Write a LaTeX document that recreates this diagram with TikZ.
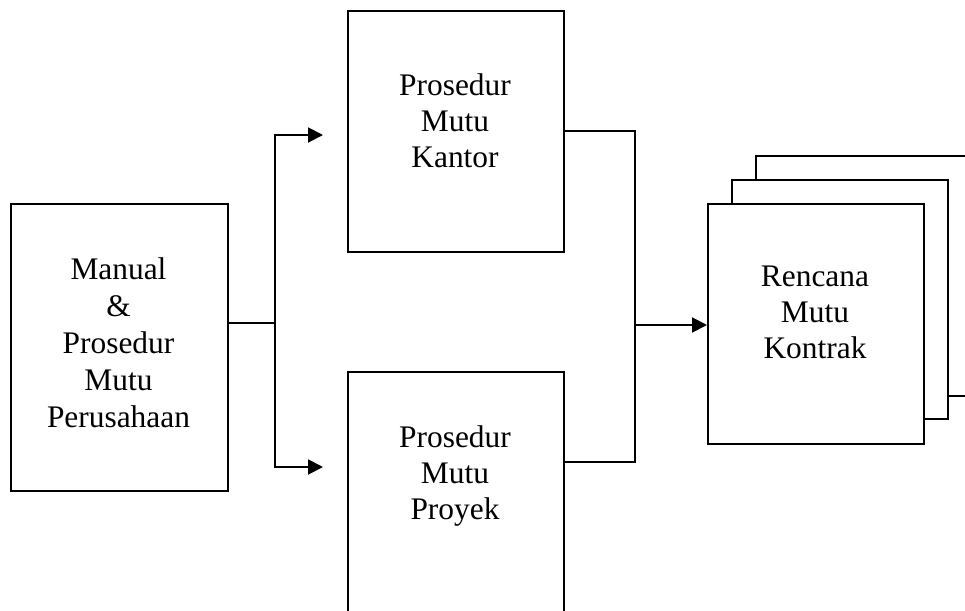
\documentclass[tikz,border=0pt]{standalone}
\usepackage{fontspec}
\setmainfont{Liberation Serif}
\usetikzlibrary{arrows.meta}
\begin{document}
\begin{tikzpicture}[x=1pt,y=-1pt,
  box/.style={draw, line width=1.9pt, inner sep=0pt, anchor=north west, fill=white},
  lbl/.style={font=\fontsize{31.4}{36}\selectfont, align=center, inner sep=0pt, anchor=north},
  conn/.style={line width=1.9pt},
  arr/.style={conn, -{Triangle[length=15pt,width=15pt]}}]
\useasboundingbox (0,0) rectangle (965,610);
\clip (0,0) rectangle (965,610);
% boxes
\node[box, minimum width=217pt, minimum height=287pt] (manual) at (10,203) {};
\node[box, minimum width=216pt, minimum height=241pt] (kantor) at (347,10) {};
\node[box, minimum width=216pt, minimum height=250pt] (proyek) at (347,371) {};
\node[box, minimum width=216pt, minimum height=240pt] (back) at (755,155) {};
\node[box, minimum width=216pt, minimum height=239pt] (mid) at (731,179) {};
\node[box, minimum width=216pt, minimum height=240pt] (front) at (707,203) {};
% labels
\node[lbl, font=\fontsize{31.4}{37}\selectfont] (tmanual) at (118.5,257.5) {Manual\\\&\\Prosedur\\Mutu\\Perusahaan};
\node[lbl] (tkantor) at (455,73.5) {Prosedur\\Mutu\\Kantor};
\node[lbl] (tproyek) at (455,425.5) {Prosedur\\Mutu\\Proyek};
\node[lbl] (tfront) at (815,266) {Rencana\\Mutu\\Kontrak};
% connectors
\coordinate (j1) at (275,323);
\coordinate (tin) at (323,135);
\coordinate (bin) at (323,467);
\draw[conn] (manual.east |- j1) -- (j1);
\draw[arr] (j1) |- (tin);
\draw[arr] (j1) |- (bin);
\coordinate (tr) at (635,131);
\coordinate (br) at (635,462);
\coordinate (j2) at (635,325);
\draw[conn] (kantor.east |- tr) -- (tr) -- (br) -- (proyek.east |- br);
\draw[arr] (j2) -- (front.west |- j2);
\end{tikzpicture}
\end{document}
